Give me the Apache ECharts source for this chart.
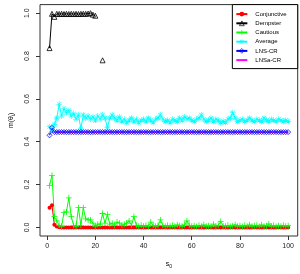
<!DOCTYPE html>
<html>
<head>
<meta charset="utf-8">
<script src="https://cdn.jsdelivr.net/npm/echarts@6/dist/echarts.min.js"></script>
<style>html,body{margin:0;padding:0;background:#fff;}#c{width:300px;height:274px;}</style>
</head>
<body>
<div id="c"></div>
<script>
const s0 = [1,2,3,4,5,6,7,8,9,10,11,12,13,14,15,16,17,18,19,20,
21,22,23,24,25,26,27,28,29,30,31,32,33,34,35,36,37,38,39,40,
41,42,43,44,45,46,47,48,49,50,51,52,53,54,55,56,57,58,59,60,
61,62,63,64,65,66,67,68,69,70,71,72,73,74,75,76,77,78,79,80,
81,82,83,84,85,86,87,88,89,90,91,92,93,94,95,96,97,98,99,100];
const xTicks = [0,20,40,60,80,100];
const yTicks = [0,0.2,0.4,0.6,0.8,1.0];
const seriesNames = ['Conjunctive','Dempster','Cautious','Average','LNS-CR','LNSa-CR'];

const conjunctive = [0.092,0.104,0.012,0.004,0.001,0,0,0,0,0,
0,0,0,0,0,0,0,0,0,0, 0,0,0,0,0,0,0,0,0,0, 0,0,0,0,0,0,0,0,0,0,
0,0,0,0,0,0,0,0,0,0, 0,0,0,0,0,0,0,0,0,0, 0,0,0,0,0,0,0,0,0,0,
0,0,0,0,0,0,0,0,0,0, 0,0,0,0,0,0,0,0,0,0, 0,0,0,0,0,0,0,0,0,0];

const dempster = [0.837,0.997,0.983,0.997,0.996,0.997,0.996,0.997,0.996,0.997,
0.996,0.997,0.996,0.997,0.997,0.997,0.998,1.0,0.993,0.988,
null,null,0.78,null,null,null,null,null,null,null,
null,null,null,null,null,null,null,null,null,null, null,null,null,null,null,null,null,null,null,null,
null,null,null,null,null,null,null,null,null,null, null,null,null,null,null,null,null,null,null,null,
null,null,null,null,null,null,null,null,null,null, null,null,null,null,null,null,null,null,null,null,
null,null,null,null,null,null,null,null,null,null];

const cautious = [0.195,0.243,0.05,0.03,0.01,0.005,0.07,0.072,0.138,0.05,
0.01,0.005,0.092,0.01,0.092,0.04,0.035,0.035,0.02,0.005,
0.015,0.015,0.065,0.02,0.06,0.015,0.02,0.01,0.025,0.02,
0.01,0.015,0.02,0.03,0.01,0.05,0.01,0.005,0.01,0.005,
0.01,0.005,0.025,0.01,0.005,0.01,0.035,0.01,0.005,0.01,
0.005,0.01,0.005,0.012,0.008,0.005,0.012,0.03,0.01,0.005,
0.008,0.004,0.01,0.006,0.012,0.005,0.008,0.004,0.015,0.006,
0.01,0.028,0.008,0.005,0.01,0.004,0.008,0.012,0.005,0.008,
0.004,0.01,0.006,0.012,0.005,0.008,0.01,0.004,0.012,0.006,
0.008,0.016,0.005,0.01,0.004,0.008,0.006,0.01,0.005,0.008];

const average = [0.47,0.45,0.48,0.51,0.575,0.52,0.555,0.535,0.545,0.52,
0.53,0.505,0.525,0.46,0.525,0.51,0.52,0.505,0.515,0.50,
0.52,0.505,0.525,0.51,0.465,0.51,0.525,0.51,0.50,0.515,
0.495,0.505,0.49,0.50,0.51,0.495,0.505,0.49,0.50,0.505,
0.495,0.51,0.50,0.49,0.505,0.51,0.525,0.505,0.495,0.50,
0.49,0.505,0.50,0.495,0.51,0.50,0.515,0.505,0.51,0.50,
0.495,0.505,0.51,0.525,0.505,0.495,0.50,0.51,0.495,0.505,
0.50,0.49,0.495,0.49,0.505,0.51,0.535,0.51,0.495,0.50,
0.505,0.495,0.50,0.51,0.50,0.495,0.505,0.50,0.495,0.51,
0.50,0.495,0.505,0.50,0.495,0.505,0.50,0.495,0.50,0.495];

const lnsCR = [0.43,0.465,0.445,0.445,0.445,0.445,0.445,0.445,0.445,0.445,
0.445,0.445,0.445,0.445,0.445,0.445,0.445,0.445,0.445,0.445,
0.445,0.445,0.445,0.445,0.445,0.445,0.445,0.445,0.445,0.445,
0.445,0.445,0.445,0.445,0.445,0.445,0.445,0.445,0.445,0.445,
0.445,0.445,0.445,0.445,0.445,0.445,0.445,0.445,0.445,0.445,
0.445,0.445,0.445,0.445,0.445,0.445,0.445,0.445,0.445,0.445,
0.445,0.445,0.445,0.445,0.445,0.445,0.445,0.445,0.445,0.445,
0.445,0.445,0.445,0.445,0.445,0.445,0.445,0.445,0.445,0.445,
0.445,0.445,0.445,0.445,0.445,0.445,0.445,0.445,0.445,0.445,
0.445,0.445,0.445,0.445,0.445,0.445,0.445,0.445,0.445,0.445];

const lnsaCR = [0.445,0.445,0.445,0.445,0.445,0.445,0.445,0.445,0.445,0.445,
0.445,0.445,0.445,0.445,0.445,0.445,0.445,0.445,0.445,0.445,
0.445,0.445,0.445,0.445,0.445,0.445,0.445,0.445,0.445,0.445,
0.445,0.445,0.445,0.445,0.445,0.445,0.445,0.445,0.445,0.445,
0.445,0.445,0.445,0.445,0.445,0.445,0.445,0.445,0.445,0.445,
0.445,0.445,0.445,0.445,0.445,0.445,0.445,0.445,0.445,0.445,
0.445,0.445,0.445,0.445,0.445,0.445,0.445,0.445,0.445,0.445,
0.445,0.445,0.445,0.445,0.445,0.445,0.445,0.445,0.445,0.445,
0.445,0.445,0.445,0.445,0.445,0.445,0.445,0.445,0.445,0.445,
0.445,0.445,0.445,0.445,0.445,0.445,0.445,0.445,0.445,0.445];

const pair = arr => s0.map((x, i) => [x, arr[i]]);
const FONT = 'Liberation Sans, Arial, sans-serif';
const PLUS = 'path://M-0.13,-1H0.13V-0.13H1V0.13H0.13V1H-0.13V0.13H-1V-0.13H-0.13Z';
const STAR = 'path://M-0.1,-1H0.1V-0.1H1V0.1H0.1V1H-0.1V0.1H-1V-0.1H-0.1Z' +
  'M-0.636,-0.778L0.778,0.636L0.636,0.778L-0.778,-0.636Z' +
  'M0.778,-0.636L0.636,-0.778L-0.778,0.636L-0.636,0.778Z';

function mk(name, data, color, symbol, size, filled) {
  return {
    name, type: 'line', data: pair(data),
    symbol, symbolSize: size, showSymbol: symbol !== 'none', showAllSymbol: true,
    connectNulls: false,
    lineStyle: { color, width: 1 },
    itemStyle: filled ? { color } : { color: 'rgba(0,0,0,0)', borderColor: color, borderWidth: 0.8 },
    emphasis: { disabled: true }, silent: true, animation: false
  };
}

const openStyle = c => ({ color: 'rgba(0,0,0,0)', borderColor: c, borderWidth: 0.7 });

const chart = echarts.init(document.getElementById('c'), null, { renderer: 'canvas' });
chart.setOption({
  animation: false,
  backgroundColor: '#fff',
  textStyle: { fontFamily: FONT },
  grid: { left: 34.7, right: 2.3, top: 4.6, bottom: 34.6, show: true, borderColor: '#333', borderWidth: 1, backgroundColor: 'transparent' },
  legend: {
    orient: 'vertical', right: 2.3, top: 4.6,
    borderColor: '#000', borderWidth: 1, backgroundColor: '#fff',
    padding: [5, 11, 4, 3],
    itemWidth: 11, itemHeight: 6, itemGap: 0.2,
    textStyle: { fontSize: 6, lineHeight: 9, color: '#000', fontFamily: FONT, padding: [0, 0, 0, 3] },
    data: [
      { name: seriesNames[0] },
      { name: seriesNames[1], itemStyle: openStyle('#000000') },
      { name: seriesNames[2] },
      { name: seriesNames[3] },
      { name: seriesNames[4], itemStyle: openStyle('#0000ff') },
      { name: seriesNames[5], itemStyle: { color: 'rgba(0,0,0,0)', borderWidth: 0, borderColor: 'rgba(0,0,0,0)' } }
    ]
  },
  xAxis: {
    type: 'value', min: -2.96, max: 103.96,
    name: 's{sub|0}', nameLocation: 'middle', nameGap: 24,
    nameTextStyle: { fontSize: 7, color: '#000', fontFamily: FONT, rich: { sub: { fontSize: 5, verticalAlign: 'bottom', padding: [4, 0, 0, 0] } } },
    axisLine: { show: false, onZero: false },
    axisTick: { show: true, inside: false, length: 4, customValues: xTicks, lineStyle: { color: '#333' } },
    axisLabel: { customValues: xTicks, margin: 7, fontSize: 7, color: '#222', fontFamily: FONT },
    splitLine: { show: false }
  },
  yAxis: {
    type: 'value', min: -0.04, max: 1.04,
    name: 'm(θ{sub|i})', nameLocation: 'middle', nameGap: 24,
    nameTextStyle: { fontSize: 7, color: '#000', fontFamily: FONT, rich: { sub: { fontSize: 5, verticalAlign: 'bottom', padding: [4, 0, 0, 0] } } },
    axisLine: { show: false, onZero: false },
    axisTick: { show: true, inside: false, length: 4, customValues: yTicks, lineStyle: { color: '#333' } },
    axisLabel: { customValues: yTicks, rotate: 90, margin: 9, fontSize: 7, color: '#222', fontFamily: FONT, formatter: v => v.toFixed(1) },
    splitLine: { show: false }
  },
  series: [
    mk('Conjunctive', conjunctive, '#ff0000', 'circle', 4, true),
    mk('Dempster', dempster, '#000000', 'triangle', 5, false),
    mk('Cautious', cautious, '#00ff00', PLUS, 6, true),
    mk('Average', average, '#00ffff', STAR, 6, true),
    mk('LNS-CR', lnsCR, '#0000ff', 'diamond', 5, false),
    mk('LNSa-CR', lnsaCR, '#ff00ff', 'none', 4, true)
  ]
});
</script>
</body>
</html>
